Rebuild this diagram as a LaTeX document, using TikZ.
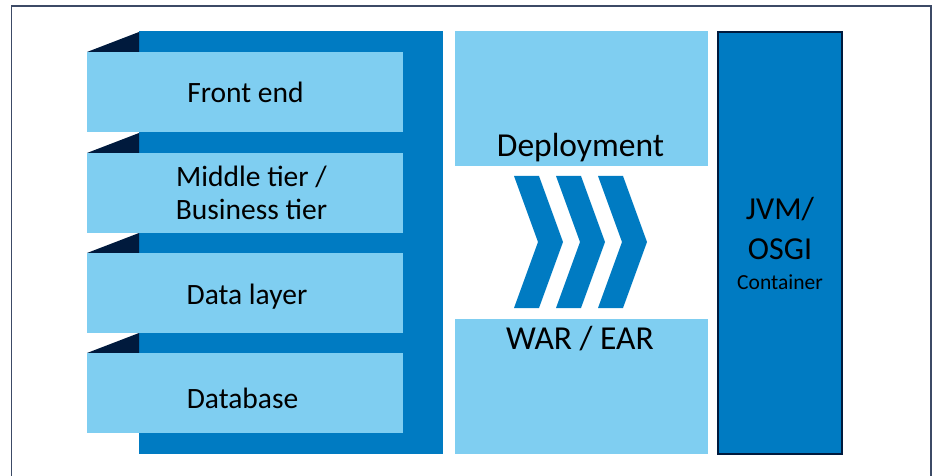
\documentclass[tikz,border=0pt]{standalone}
\usepackage{fontspec}
\setmainfont{Carlito}
\definecolor{tierblue}{HTML}{007BC2}
\definecolor{lightblue}{HTML}{7FCEF1}
\definecolor{navy}{HTML}{001A3D}
\definecolor{framegray}{HTML}{3C4A66}
\tikzset{
	label/.style={anchor=base, inner sep=0pt, text=black, font=\fontsize{29.5}{33}\selectfont},
}
\begin{document}
\begin{tikzpicture}[x=1pt, y=-1pt]
					\useasboundingbox (0,0) rectangle (935,476);
					\draw[framegray, line width=1.2pt] (11.5,476) -- (11.5,6) -- (931,6) -- (931,476);
					
					% back panel of the stack
					\fill[tierblue] (139,31) rectangle (443,454);
					
					\fill[navy] (87,52) -- (139,32) -- (139,52) -- cycle;
					\fill[navy] (87,153) -- (139,133) -- (139,153) -- cycle;
					\fill[navy] (87,253) -- (139,233) -- (139,253) -- cycle;
					\fill[navy] (87,353) -- (139,333) -- (139,353) -- cycle;
					
					\fill[lightblue] (87,52) rectangle (403,132);
					\fill[lightblue] (87,153) rectangle (403,233);
					\fill[lightblue] (87,253) rectangle (403,333);
					\fill[lightblue] (87,353) rectangle (403,433);
					\node[label] (front) at (245.5,103) {Front end};
					\node[label, align=center] (middle) at (251.5,219.5) {Middle tier /\\Business tier};
					\node[label] (data) at (247,304) {Data layer};
					\node[label] (db) at (242.5,408) {Database};
					
					% deployment column
					\fill[lightblue] (455,31) rectangle (708,166);
					\fill[lightblue] (455,319) rectangle (708,454);
					\node[label, font=\fontsize{33.5}{38}\selectfont] (deploy) at (580.5,156.5) {Deployment};
					\node[label, font=\fontsize{33.5}{38}\selectfont] (war) at (580,349.5) {WAR / EAR};
					
					\fill[tierblue] (514,176) -- (539,176) -- (563,242) -- (539,308) -- (514,308) -- (538,242) -- cycle;
					\fill[tierblue] (556,176) -- (581,176) -- (605,242) -- (581,308) -- (556,308) -- (580,242) -- cycle;
					\fill[tierblue] (598,176) -- (623,176) -- (647,242) -- (623,308) -- (598,308) -- (622,242) -- cycle;
					
					% container
					\draw[navy, fill=tierblue, line width=1.5pt] (718,32) rectangle (842,454);
					\node[label, align=center, font=\fontsize{32}{40}\selectfont] (jvm) at (780,289.5) {JVM/\\OSGI\\[-10pt]{\fontsize{21.5}{30}\selectfont Container}};
\end{tikzpicture}
\end{document}
